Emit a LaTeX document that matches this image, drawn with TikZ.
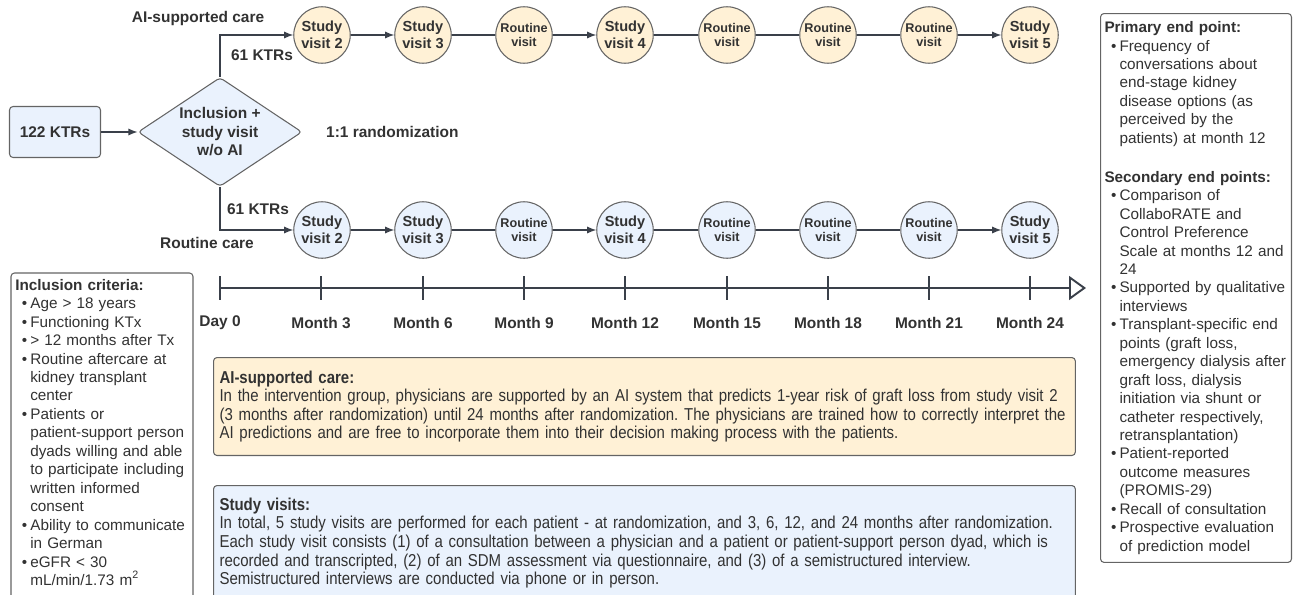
\documentclass[tikz,border=0pt]{standalone}
\usepackage{fontspec}
\setmainfont{Liberation Sans}
\newfontfamily\narrowfont[FakeStretch=0.87]{Liberation Sans}
\usetikzlibrary{shapes.geometric,positioning,arrows.meta}
\definecolor{txt}{RGB}{50,50,50}
\definecolor{bd}{RGB}{100,100,100}
\definecolor{ln}{RGB}{58,64,74}
\definecolor{lb}{RGB}{234,242,253}
\definecolor{lo}{RGB}{255,241,214}
\newcommand{\lblfont}{\fontsize{8.8}{10.5}\selectfont\bfseries}
\newcommand{\listfont}{\fontsize{8.7}{10.5}\selectfont}
\newcommand{\notefont}{\frenchspacing\narrowfont\fontsize{9.8}{10.6}\selectfont}
\newcommand{\bu}{\hspace*{0.13cm}\makebox[0.17cm][l]{\textbullet}}
\newcommand{\ci}{\hspace*{0.3cm}}

\begin{document}
\begin{tikzpicture}[x=0.02cm,y=-0.02cm,
 every node/.style={text=txt},
 box/.style={draw=bd,line width=0.6pt,rounded corners=2pt},
 lbl/.style={font=\lblfont},
 sv/.style={circle,draw=bd,line width=0.6pt,minimum size=1.13cm,inner sep=0pt,align=center,font=\fontsize{8.3}{9.6}\selectfont\bfseries},
 rv/.style={sv,font=\fontsize{7.2}{8.4}\selectfont\bfseries},
 note/.style={box,anchor=north west,align=left,inner sep=0.12cm,font=\notefont},
 lst/.style={anchor=north west,align=left,inner xsep=0.08cm,font=\listfont},
 ar/.style={ln,line width=0.6pt,-{Latex[length=1.8mm,width=1.4mm]}},
 pl/.style={ln,line width=0.6pt},
 tl/.style={ln,line width=1.7pt,-{Triangle[open,length=3.4mm,width=4.8mm,line width=1.1pt]}},
 tk/.style={ln,line width=1.1pt}]
\useasboundingbox (0,0) rectangle (1295,595);
\clip (0,0) rectangle (1295,595);

\node[box,fill=lb,minimum width=1.82cm,minimum height=1.02cm,font=\lblfont] (ktr) at (55,132) {122 KTRs};
\node[box,fill=lb,diamond,aspect=1.5,inner sep=0pt,minimum width=3.28cm,minimum height=2.18cm,align=center,font=\lblfont] (incl) at (220,132) {Inclusion +\\study visit\\w/o AI};
\node[lbl] (aic) at (198,19) {AI-supported care};
\node[lbl] (n61a) at (262,55) {61 KTRs};
\node[lbl,anchor=west] (rand) at (320,132) {1:1 randomization};
\node[lbl] (n61r) at (258,209) {61 KTRs};
\node[lbl] (rtc) at (207,243) {Routine care};

\foreach \x/\t/\s [count=\i] in {322/{Study\\visit 2}/sv,423/{Study\\visit 3}/sv,524/{Routine\\visit}/rv,625/{Study\\visit 4}/sv,727/{Routine\\visit}/rv,828/{Routine\\visit}/rv,929/{Routine\\visit}/rv,1030/{Study\\visit 5}/sv} {
 \node[\s,fill=lo] (a\i) at (\x,35) {\t};
 \node[\s,fill=lb] (r\i) at (\x,230) {\t};
}
\foreach \r in {a,r}
 \foreach \i/\j/\k in {1/2/ar,2/3/pl,3/4/ar,4/5/pl,5/6/pl,6/7/pl,7/8/ar}
  \draw[\k] (\r\i) -- (\r\j);
\draw[ar] (ktr) -- (incl);
\draw[ar] (incl.north) |- (a1);
\draw[ar] (incl.south) |- (r1);

\coordinate (t0) at (220,288);
\coordinate (tend) at (1086,288);
\draw[tl] (t0) -- (tend);
\foreach \x/\m [count=\i] in {220/Day 0,321/Month 3,423/Month 6,524/Month 9,625/Month 12,727/Month 15,828/Month 18,929/Month 21,1030/Month 24} {
 \draw[tk] (\x,276) -- (\x,300);
 \node[lbl] (m\i) at (\x,323) {\m};
}

\node[note,fill=lo,minimum width=17.24cm,minimum height=1.96cm,text width=17cm] (aib) at (213,357)
 {\textbf{AI-supported care:}\\
 In the intervention group, physicians are supported by an AI system that predicts 1-year risk of graft loss from study visit 2\\
 (3 months after randomization) until 24 months after randomization. The physicians are trained how to correctly interpret the\\
 AI predictions and are free to incorporate them into their decision making process with the patients.};
\node[note,fill=lb,minimum width=17.24cm,minimum height=2.3cm,text width=17cm] (svb) at (213,485)
 {\textbf{Study visits:}\\
 In total, 5 study visits are performed for each patient - at randomization, and 3, 6, 12, and 24 months after randomization.\\
 Each study visit consists (1) of a consultation between a physician and a patient or patient-support person dyad, which is\\
 recorded and transcripted, (2) of an SDM assessment via questionnaire, and (3) of a semistructured interview.\\
 Semistructured interviews are conducted via phone or in person.};

\draw[box,fill=white] (11,273) rectangle (193,620);
\node[lst,text width=3.48cm] (crit) at (11,273)
 {\textbf{Inclusion criteria:}\\
 \bu Age > 18 years\\
 \bu Functioning KTx\\
 \bu > 12 months after Tx\\
 \bu Routine aftercare at\\
 \ci kidney transplant\\
 \ci center\\
 \bu Patients or\\
 \ci patient-support person\\
 \ci dyads willing and able\\
 \ci to participate including\\
 \ci written informed\\
 \ci consent\\
 \bu Ability to communicate\\
 \ci in German\\
 \bu eGFR < 30\\
 \ci mL/min/1.73 m\textsuperscript{2}};

\node[lst,box,minimum height=10.98cm,text width=3.66cm] (ep) at (1100,13)
 {\textbf{Primary end point:}\\
 \bu Frequency of\\
 \ci conversations about\\
 \ci end-stage kidney\\
 \ci disease options (as\\
 \ci perceived by the\\
 \ci patients) at month 12\\[0.41cm]
 \textbf{Secondary end points:}\\
 \bu Comparison of\\
 \ci CollaboRATE and\\
 \ci Control Preference\\
 \ci Scale at months 12 and\\
 \ci 24\\
 \bu Supported by qualitative\\
 \ci interviews\\
 \bu Transplant-specific end\\
 \ci points (graft loss,\\
 \ci emergency dialysis after\\
 \ci graft loss, dialysis\\
 \ci initiation via shunt or\\
 \ci catheter respectively,\\
 \ci retransplantation)\\
 \bu Patient-reported\\
 \ci outcome measures\\
 \ci (PROMIS-29)\\
 \bu Recall of consultation\\
 \bu Prospective evaluation\\
 \ci of prediction model};
\end{tikzpicture}
\end{document}
